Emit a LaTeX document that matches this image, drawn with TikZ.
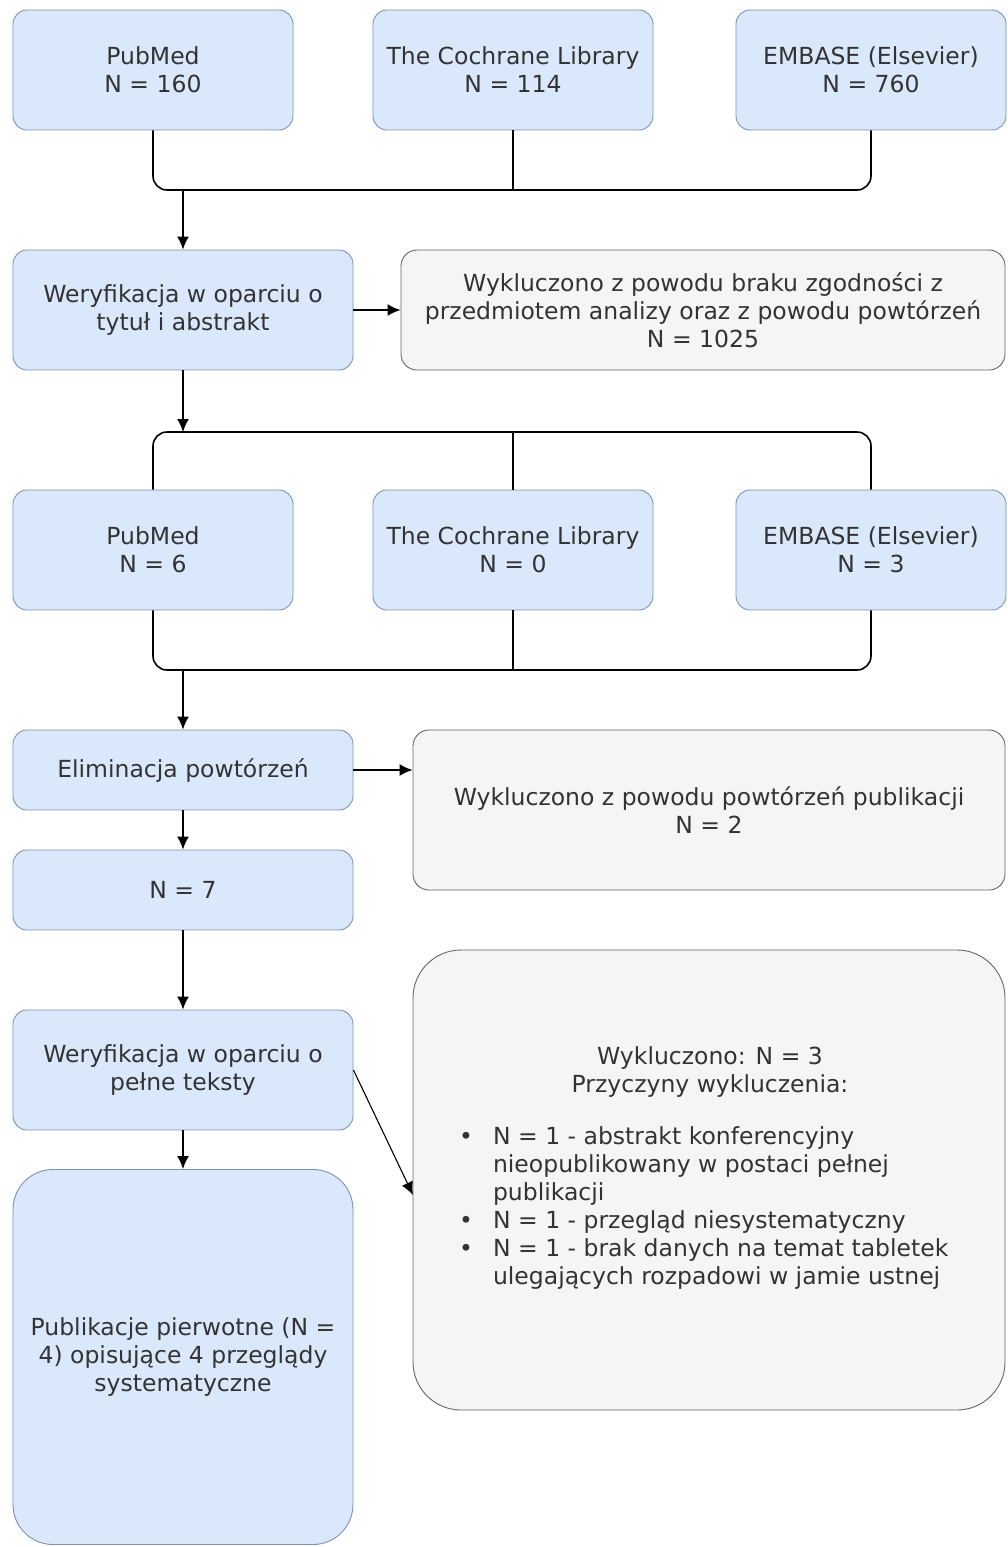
\documentclass[tikz,border=0pt]{standalone}
\usepackage{fontspec}
\setmainfont{DejaVu Sans}
\usetikzlibrary{arrows.meta,calc}
\definecolor{bfill}{HTML}{DAE8FC}
\definecolor{bdraw}{HTML}{8090B4}
\definecolor{gfill}{HTML}{F5F5F5}
\definecolor{gdraw}{HTML}{666666}
\definecolor{txt}{HTML}{333333}
\newcommand{\mfont}{\fontsize{23.5}{28}\selectfont}
\begin{document}
\begin{tikzpicture}[x=1pt,y=-1pt,
  every node/.style={font=\mfont, text=txt},
  bbox/.style={draw=bdraw, fill=bfill, line width=0.9pt, rounded corners=14pt, align=center, inner sep=0pt},
  gbox/.style={draw=gdraw, fill=gfill, line width=0.9pt, rounded corners=16pt, align=center, inner sep=0pt},
  conn/.style={line width=1.6pt, black},
  arr/.style={conn, -{Latex[length=13pt,width=12pt]}},
  rc/.style={rounded corners=14pt}]
\useasboundingbox (0,0) rectangle (1007,1547);
\fill[white] (0,0) rectangle (1007,1547);
% row 1
\node[bbox, minimum width=280, minimum height=120] (p1) at (153,70) {PubMed\\N = 160};
\node[bbox, minimum width=280, minimum height=120] (c1) at (513,70) {The Cochrane Library\\N = 114};
\node[bbox, minimum width=270, minimum height=120] (e1) at (871,70) {EMBASE (Elsevier)\\N = 760};
% row 2
\node[bbox, minimum width=340, minimum height=120] (w1) at (183,310) {Weryfikacja w oparciu o\\tytuł i abstrakt};
\node[gbox, minimum width=604, minimum height=120] (x1) at (703,310) {Wykluczono z powodu braku zgodności z\\przedmiotem analizy oraz z powodu powtórzeń\\N = 1025};
% row 3
\node[bbox, minimum width=280, minimum height=120] (p2) at (153,550) {PubMed\\N = 6};
\node[bbox, minimum width=280, minimum height=120] (c2) at (513,550) {The Cochrane Library\\N = 0};
\node[bbox, minimum width=270, minimum height=120] (e2) at (871,550) {EMBASE (Elsevier)\\N = 3};
% lower
\node[bbox, minimum width=340, minimum height=80] (el) at (183,770) {Eliminacja powtórzeń};
\node[gbox, minimum width=592, minimum height=160] (x2) at (709,810) {Wykluczono z powodu powtórzeń publikacji\\N = 2};
\node[bbox, minimum width=340, minimum height=80] (n7) at (183,890) {N = 7};
\node[bbox, minimum width=340, minimum height=120] (w2) at (183,1070) {Weryfikacja w oparciu o\\pełne teksty};
\node[bbox, rounded corners=40pt, minimum width=340, minimum height=375] (fin) at (183,1357) {Publikacje pierwotne (N =\\4) opisujące 4 przeglądy\\systematyczne};
\node[gbox, rounded corners=48pt, minimum width=592, minimum height=460] (x3) at (709,1180) {};
\node[align=center] (x3h) at (710,1072) {Wykluczono: N = 3\\Przyczyny wykluczenia:};
\node[anchor=north west, inner sep=0pt] (x3l) at (459,1125) {\mfont
\begin{tabular}{@{}l@{\hspace{20pt}}l@{}}
\textbullet & N = 1 - abstrakt konferencyjny\\
 & nieopublikowany w postaci pełnej\\
 & publikacji\\
\textbullet & N = 1 - przegląd niesystematyczny\\
\textbullet & N = 1 - brak danych na temat tabletek\\
 & ulegających rozpadowi w jamie ustnej
\end{tabular}};
% connectors top
\coordinate (j1) at (183,190);
\draw[conn, rc] (p1.south) |- (j1) -- (e1.south |- j1) -- (e1.south);
\draw[conn] (c1.south) -- (c1.south |- j1);
\draw[arr] (j1) -- (w1.north);
\draw[arr] (w1.east) -- (x1.west);
% connectors middle
\coordinate (j2) at (183,432);
\draw[arr] (w1.south) -- (j2);
\draw[conn, rc] (p2.north) |- (j2) -- (e2.north |- j2) -- (e2.north);
\draw[conn] (c2.north) -- (c2.north |- j2);
\coordinate (j3) at (183,670);
\draw[conn, rc] (p2.south) |- (j3) -- (e2.south |- j3) -- (e2.south);
\draw[conn] (c2.south) -- (c2.south |- j3);
\draw[arr] (j3) -- (el.north);
\draw[arr] (el.east) -- (x2.west |- el.east);
\draw[arr] (el.south) -- (n7.north);
\draw[arr] (n7.south) -- (w2.north);
\draw[arr] (w2.south) -- (fin.north);
\coordinate (x3in) at (413,1195);
\draw[conn, line width=1.1pt, -{Latex[length=13pt,width=12pt]}] (w2.east) -- (x3in);
\end{tikzpicture}
\end{document}
